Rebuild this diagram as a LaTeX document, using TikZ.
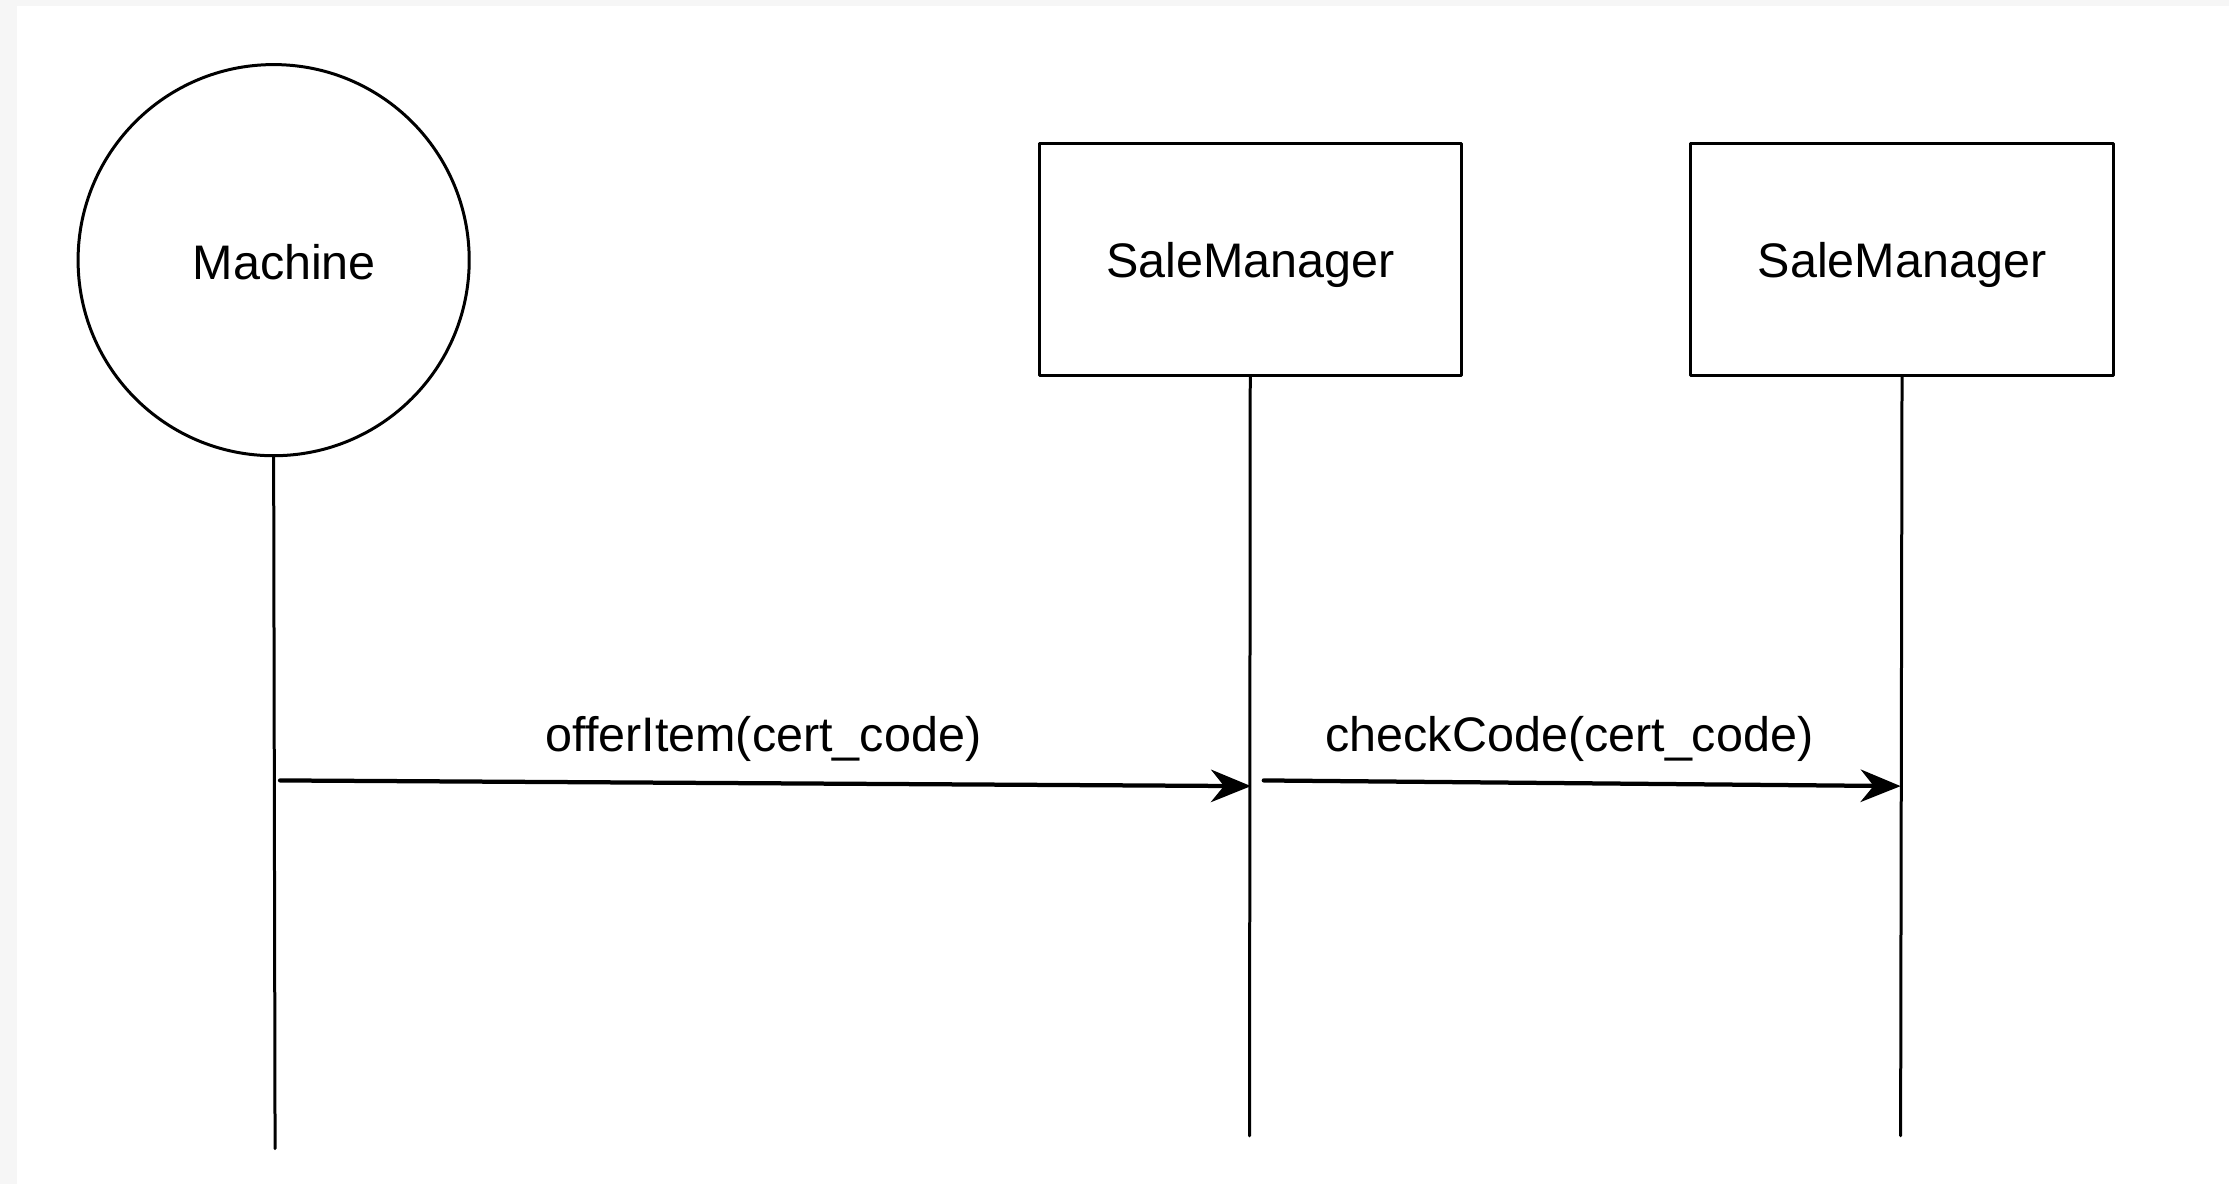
\documentclass[tikz,border=0pt]{standalone}
\usepackage{fontspec}
\setmainfont{Liberation Sans}
\usetikzlibrary{arrows.meta}
\definecolor{framegray}{HTML}{F6F6F6}

\begin{document}
\begin{tikzpicture}[line cap=round,line join=round,>={Stealth[length=8pt,width=6.5pt]},x=0.01cm,y=-0.01cm,
  actor/.style={draw,circle,line width=0.6pt,minimum size=2.75cm,inner sep=0pt},
  object/.style={draw,rectangle,line width=0.6pt,minimum width=2.97cm,minimum height=1.63cm,inner sep=0pt},
  lifeline/.style={line width=0.6pt},
  message/.style={->,line width=0.85pt},
  txt/.style={font=\fontsize{9.7pt}{12pt}\selectfont,text depth=0pt}]
\fill[framegray] (0,0) rectangle (1568,833);
\fill[white] (12,4) rectangle (1568,833);
\useasboundingbox (0,0) rectangle (1568,833);
\node[actor] (machine) at (192.5,183) {};
\node[txt] (machinetxt) at (200,184) {Machine};
\node[object,txt] (sm1) at (879.5,182.5) {SaleManager};
\node[object,txt] (sm2) at (1338,182.5) {SaleManager};
\coordinate (end0) at (193.5,808);
\coordinate (end1) at (879,799);
\coordinate (end2) at (1337,799);
\draw[lifeline] (machine.south) -- (end0);
\draw[lifeline] (sm1.south) -- (end1);
\draw[lifeline] (sm2.south) -- (end2);
\coordinate (m1a) at (197,549);
\coordinate (m1b) at (880,553);
\coordinate (m2a) at (889,549);
\coordinate (m2b) at (1337,553);
\draw[message] (m1a) -- (m1b);
\draw[message] (m2a) -- (m2b);
\node[txt] (offer) at (537,516) {offerItem(cert\_code)};
\node[txt] (check) at (1104,516) {checkCode(cert\_code)};
\end{tikzpicture}
\end{document}
